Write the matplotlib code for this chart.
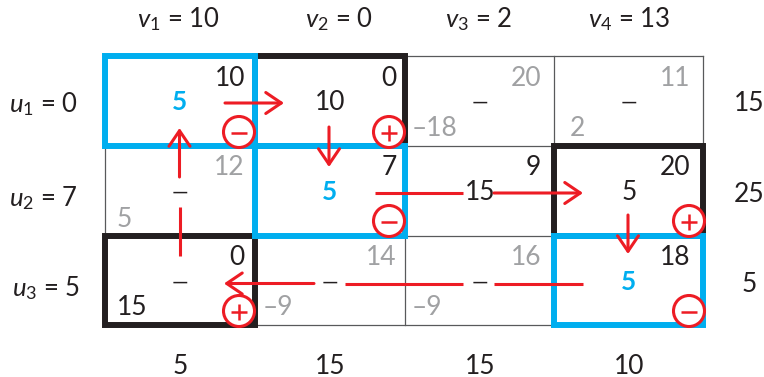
import matplotlib
matplotlib.use("Agg")
import matplotlib.pyplot as plt
from matplotlib.patches import Rectangle, Circle

W, H = 764, 377
BLACK, GRAY, BLUE, RED, LINE = "#231F20", "#A0A1A3", "#00AEEF", "#ED1C24", "#58595B"

# --- table content ---
v_labels = ["$v_1$ = 10", "$v_2$ = 0", "$v_3$ = 2", "$v_4$ = 13"]
u_labels = ["$u_1$ = 0", "$u_2$ = 7", "$u_3$ = 5"]
supply = ["15", "25", "5"]
demand = ["5", "15", "15", "10"]
costs = [["10", "0", "20", "11"], ["12", "7", "9", "20"], ["0", "14", "16", "18"]]
cost_is_basic = [[1, 1, 0, 0], [0, 1, 1, 1], [1, 0, 0, 1]]
alloc = [["5", "10", "—", "—"], ["—", "5", "15", "5"], ["—", "—", "—", "5"]]
deltas = {(0, 2): "–18", (0, 3): "2", (1, 0): "5", (2, 1): "–9", (2, 2): "–9"}
delta_basic = {(2, 0): "15"}
blue_cells = [(0, 0), (1, 1), (2, 3)]
black_cells = [(0, 1), (1, 3), (2, 0)]
plus_cells = [(0, 1), (1, 3), (2, 0)]
minus_cells = [(0, 0), (1, 1), (2, 3)]

# --- layout ---
xe = [105, 255, 405, 554, 703]
ye = [56, 146, 236, 325]
xc = [180, 330, 480, 629]
yc = [102, 192, 282]
cost_x = [245, 397, 541, 690]
cost_y = [78, 167, 257]
delta_x = [117, 263, 412, 570]
delta_y = [128, 219, 307]
circ_x = [239, 389, 539, 689]
circ_y = [132, 221, 311]
v_x = [178, 339, 479, 629]
u_x = [43, 43, 46]
u_y = [103, 197, 287]
sup_y = [103, 194, 284]

# plain red segments and arrow-headed segments of the cycle
red_lines = [(375, 193, 463, 193), (345, 283.5, 463, 283.5), (583, 283.5, 494, 283.5),
             (179.5, 256, 179.5, 207)]
red_arrows = [(225, 103, 284, 103), (329, 127, 329, 167), (494, 193, 583, 193),
              (628, 215, 628, 254), (314, 283.5, 224, 283.5), (179.5, 177, 179.5, 128)]

plt.rcParams["font.family"] = ["Lato", "DejaVu Sans"]
plt.rcParams["mathtext.fontset"] = "custom"
plt.rcParams["mathtext.rm"] = "Lato"
plt.rcParams["mathtext.it"] = "Lato:italic"

fig = plt.figure(figsize=(W / 100, H / 100), dpi=100)
ax = fig.add_axes([0, 0, 1, 1])
ax.set_xlim(0, W)
ax.set_ylim(H, 0)
ax.axis("off")

FS = 19
def txt(x, y, s, color=BLACK, ha="center", fs=FS, **kw):
    ax.text(x, y - 2, s, color=color, ha=ha, va="center_baseline", fontsize=fs, zorder=3, **kw)

# thin grid
for x in xe:
    ax.plot([x, x], [ye[0], ye[-1]], color=LINE, lw=0.9, zorder=1)
for y in ye:
    ax.plot([xe[0], xe[-1]], [y, y], color=LINE, lw=0.9, zorder=1)

# heavy cells
for cells, col, z in ((black_cells, BLACK, 2), (blue_cells, BLUE, 2.5)):
    for r, c in cells:
        ax.add_patch(Rectangle((xe[c], ye[r]), xe[c + 1] - xe[c], ye[r + 1] - ye[r], fill=False,
                               ec=col, lw=4.3, zorder=z, joinstyle="miter"))

# texts
for c, s in enumerate(v_labels):
    txt(v_x[c], 18, s, fs=18.5)
    txt(xc[c], 366, demand[c])
for r, s in enumerate(u_labels):
    txt(u_x[r], u_y[r], s, fs=18.5)
    txt(749, sup_y[r], supply[r])
for r in range(3):
    for c in range(4):
        txt(cost_x[c], cost_y[r], costs[r][c], color=BLACK if cost_is_basic[r][c] else GRAY, ha="right")
        a = alloc[r][c]
        if (r, c) in blue_cells:
            txt(xc[c], yc[r], a, color=BLUE, fontweight="bold")
        elif a == "—":
            txt(xc[c], yc[r] + 1, a, fs=15)
        else:
            txt(xc[c], yc[r], a)
for (r, c), s in deltas.items():
    txt(delta_x[c], delta_y[r], s, color=GRAY, ha="left")
for (r, c), s in delta_basic.items():
    txt(delta_x[c], delta_y[r], s, ha="left")

# red cycle
for x0, y0, x1, y1 in red_lines:
    ax.plot([x0, x1], [y0, y1], color=RED, lw=2.2, zorder=4, solid_capstyle="butt")
for x0, y0, x1, y1 in red_arrows:
    ax.annotate("", xy=(x1, y1), xytext=(x0, y0), zorder=4,
                arrowprops=dict(arrowstyle="->,head_length=0.62,head_width=0.42", color=RED, lw=2.2,
                                shrinkA=0, shrinkB=0, mutation_scale=18))

# plus / minus badges
R = 15.5
for cells, sym in ((plus_cells, "+"), (minus_cells, "-")):
    for r, c in cells:
        cx, cy = circ_x[c], circ_y[r]
        ax.add_patch(Circle((cx, cy), R, fc="white", ec=RED, lw=2.2, zorder=5))
        ax.plot([cx - 8, cx + 8], [cy + 1, cy + 1], color=RED, lw=1.8, zorder=6, solid_capstyle="butt")
        if sym == "+":
            ax.plot([cx, cx], [cy - 7, cy + 9], color=RED, lw=1.8, zorder=6, solid_capstyle="butt")

fig.savefig("out.png", dpi=100)
